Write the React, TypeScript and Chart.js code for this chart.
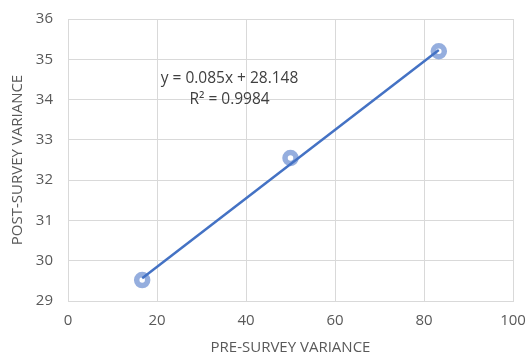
import React, { useEffect, useRef } from "react";
import { Chart, registerables } from "chart.js";
Chart.register(...registerables);

const preSurvey = [16.67, 50, 83.33];
const postSurvey = [29.52, 32.55, 35.2];
const trendX = [16.67, 83.33];
const trendY = [29.565, 35.231];
const equationLines = ["y = 0.085x + 28.148", "R² = 0.9984"];
const xTitle = "PRE-SURVEY VARIANCE";
const yTitle = "POST-SURVEY VARIANCE";

const FONT = "'Open Sans', 'Noto Sans', sans-serif";
const GRID = "#d9d9d9";
const TICK = "#595959";

const equationPlugin = {
  id: "equationLabel",
  afterDatasetsDraw(chart: any) {
    const { ctx, scales } = chart;
    const x = scales.x.getPixelForValue(36.3);
    const y1 = scales.y.getPixelForValue(34.52);
    const y2 = scales.y.getPixelForValue(33.99);
    ctx.save();
    ctx.font = `15.5px ${FONT}`;
    ctx.fillStyle = "#404040";
    ctx.textAlign = "center";
    ctx.textBaseline = "middle";
    ctx.fillText(equationLines[0], x, y1);
    ctx.fillText(equationLines[1], x, y2);
    ctx.restore();
  },
};

export default function App() {
  const ref = useRef<HTMLCanvasElement>(null);
  useEffect(() => {
    document.body.style.margin = "0";
    const chart = new Chart(ref.current!, {
      type: "scatter",
      data: {
        datasets: [
          {
            type: "line",
            data: trendX.map((x, i) => ({ x, y: trendY[i] })),
            borderColor: "#4472c4",
            borderWidth: 2.5,
            pointRadius: 0,
            fill: false,
            order: 0,
          } as any,
          {
            data: preSurvey.map((x, i) => ({ x, y: postSurvey[i] })),
            pointRadius: 5.5,
            pointBorderWidth: 5.5,
            pointBorderColor: "rgba(143,170,220,0.95)",
            pointBackgroundColor: "#ffffff",
            order: 1,
          },
        ],
      },
      options: {
        animation: false,
        responsive: false,
        layout: { padding: { top: 19, right: 14, left: 0, bottom: 0 } },
        plugins: { legend: { display: false }, tooltip: { enabled: false } },
        scales: {
          x: {
            type: "linear",
            min: 0,
            max: 100,
            ticks: { stepSize: 20, color: TICK, font: { family: FONT, size: 15 }, padding: 11 },
            grid: { color: GRID, lineWidth: 1, drawTicks: false },
            border: { color: GRID, width: 1 },
            title: { display: true, text: xTitle, color: TICK, font: { family: FONT, size: 15 }, padding: 0 },
            afterFit(scale: any) {
              scale.height = 56;
              scale.paddingLeft = 0;
              scale.paddingRight = 0;
            },
          },
          y: {
            type: "linear",
            min: 29,
            max: 36,
            ticks: { stepSize: 1, color: TICK, font: { family: FONT, size: 15 }, padding: 15 },
            grid: { color: GRID, lineWidth: 1, drawTicks: false },
            border: { color: GRID, width: 1 },
            title: { display: true, text: yTitle, color: TICK, font: { family: FONT, size: 15 }, padding: { top: 9, bottom: 0 } },
            afterFit(scale: any) {
              scale.width = 68;
              scale.paddingTop = 0;
              scale.paddingBottom = 0;
            },
          },
        },
      },
      plugins: [equationPlugin],
    });
    return () => chart.destroy();
  }, []);
  return (
    <div style={{ position: "absolute", left: 0, top: 0, width: 527, height: 357, background: "#fff" }}>
      <canvas ref={ref} width={527} height={357} />
    </div>
  );
}
